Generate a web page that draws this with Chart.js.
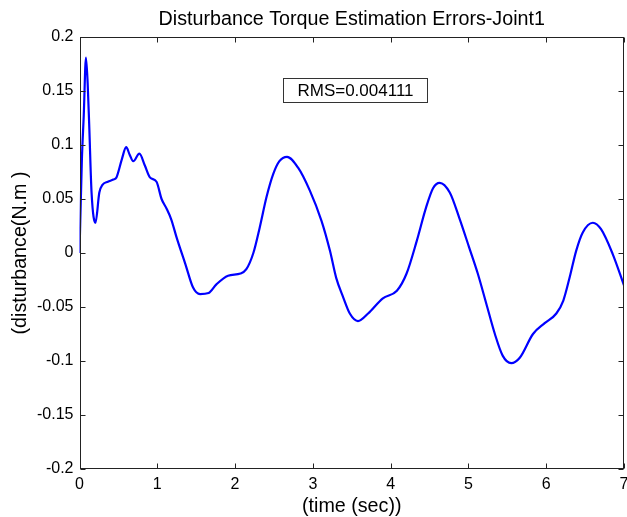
<!DOCTYPE html>
<html><head><meta charset="utf-8">
<script src="https://cdn.jsdelivr.net/npm/chart.js@4"></script>
<style>html,body{margin:0;padding:0;background:#fff;}canvas{display:block;}</style>
</head><body>
<canvas id="c" width="627" height="517"></canvas>
<script>
const chartTitle = "Disturbance Torque Estimation Errors-Joint1";
const xLabel = "(time (sec))";
const yLabel = "(disturbance(N.m )";
const rmsText = "RMS=0.004111";
const xTicks = [0,1,2,3,4,5,6,7];
const yTicks = [-0.2,-0.15,-0.1,-0.05,0,0.05,0.1,0.15,0.2];
const timeSec = [0,0.03,0.055,0.083,0.105,0.125,0.155,0.205,0.255,0.295,0.365,0.435,0.475,0.545,0.6,0.645,0.69,0.77,0.84,0.905,0.99,1.055,1.12,1.18,1.25,1.36,1.46,1.55,1.66,1.76,1.91,2.07,2.145,2.235,2.315,2.405,2.49,2.57,2.668,2.81,2.96,3.11,3.22,3.30,3.39,3.475,3.58,3.71,3.90,4.08,4.205,4.335,4.455,4.545,4.63,4.76,4.88,5.01,5.12,5.23,5.34,5.44,5.55,5.66,5.83,5.98,6.13,6.22,6.30,6.385,6.47,6.60,6.705,6.855,7.0];
const disturbance = [0.0,0.085,0.128,0.181,0.157,0.118,0.056,0.028,0.056,0.063,0.066,0.068,0.070,0.087,0.098,0.091,0.085,0.092,0.081,0.070,0.066,0.050,0.041,0.031,0.014,-0.010,-0.032,-0.038,-0.037,-0.029,-0.021,-0.019,-0.015,0.0,0.023,0.052,0.073,0.085,0.089,0.079,0.058,0.030,0.002,-0.023,-0.041,-0.056,-0.063,-0.056,-0.042,-0.035,-0.019,0.011,0.042,0.060,0.065,0.056,0.033,0.005,-0.019,-0.047,-0.075,-0.095,-0.102,-0.097,-0.075,-0.065,-0.056,-0.044,-0.023,0.002,0.019,0.028,0.022,-0.001,-0.030];

const FONT = "'Liberation Sans', Arial, sans-serif";

const decor = {
  id: 'decor',
  afterDraw(chart) {
    const ctx = chart.ctx;
    const a = chart.chartArea;
    const xs = chart.scales.x, ys = chart.scales.y;
    ctx.save();
    ctx.strokeStyle = '#222';
    ctx.lineWidth = 1;
    const L = Math.round(a.left)+0.5, T = Math.round(a.top)+0.5, R = Math.round(a.right)-0.5, B = Math.round(a.bottom)-0.5;
    ctx.strokeRect(L, T, R-L, B-T);
    ctx.beginPath();
    xTicks.forEach(v => {
      const px = Math.round(xs.getPixelForValue(v))+0.5;
      ctx.moveTo(px, B); ctx.lineTo(px, B-5);
      ctx.moveTo(px, T); ctx.lineTo(px, T+5);
    });
    yTicks.forEach(v => {
      const py = Math.round(ys.getPixelForValue(v))+0.5;
      ctx.moveTo(L, py); ctx.lineTo(L+5, py);
      ctx.moveTo(R, py); ctx.lineTo(R-5, py);
    });
    ctx.stroke();
    ctx.fillStyle = '#000';
    ctx.textAlign = 'center';
    ctx.textBaseline = 'alphabetic';
    ctx.font = '19.7px ' + FONT;
    ctx.fillText(chartTitle, (a.left+a.right)/2, 25);
    ctx.fillText(xLabel, (a.left+a.right)/2, 512);
    ctx.save();
    ctx.translate(26, (a.top+a.bottom)/2);
    ctx.rotate(-Math.PI/2);
    ctx.fillText(yLabel, 0, 0);
    ctx.restore();
    ctx.fillStyle = '#fff';
    ctx.fillRect(283.5, 78.5, 144, 24);
    ctx.strokeStyle = '#333';
    ctx.strokeRect(283.5, 78.5, 144, 24);
    ctx.fillStyle = '#000';
    ctx.font = '17px ' + FONT;
    ctx.textBaseline = 'middle';
    ctx.fillText(rmsText, 355.5, 91);
    ctx.restore();
  }
};

new Chart(document.getElementById('c'), {
  type: 'line',
  data: {
    datasets: [{
      data: timeSec.map((t,i) => ({x: t, y: disturbance[i]})),
      borderColor: '#0000ff',
      borderWidth: 2.2,
      pointRadius: 0,
      fill: false,
      cubicInterpolationMode: 'monotone'
    }]
  },
  options: {
    responsive: false,
    animation: false,
    devicePixelRatio: 1,
    layout: { padding: { top: 37, right: 3, left: 0, bottom: 0 } },
    plugins: { legend: { display: false }, tooltip: { enabled: false }, title: { display: false } },
    scales: {
      x: {
        type: 'linear', min: 0, max: 7,
        afterBuildTicks: s => { s.ticks = xTicks.map(v => ({value: v})); },
        afterFit: s => { s.height = 48; s.paddingLeft = 0; s.paddingRight = 0; },
        grid: { display: false, drawTicks: false },
        border: { display: false },
        ticks: { color: '#000', font: { family: FONT, size: 16 }, padding: 6, maxRotation: 0,
          callback: v => String(v) }
      },
      y: {
        type: 'linear', min: -0.2, max: 0.2,
        afterBuildTicks: s => { s.ticks = yTicks.map(v => ({value: v})); },
        afterFit: s => { s.width = 79.5; s.paddingTop = 0; s.paddingBottom = 0; },
        grid: { display: false, drawTicks: false },
        border: { display: false },
        ticks: { color: '#000', font: { family: FONT, size: 16 }, padding: 6,
          callback: v => String(parseFloat(Number(v).toFixed(3))) }
      }
    }
  },
  plugins: [decor]
});
</script>
</body></html>
